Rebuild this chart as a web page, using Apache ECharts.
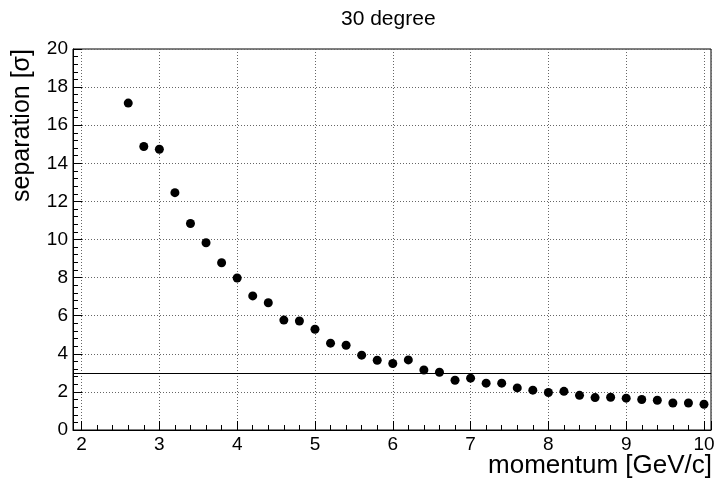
<!DOCTYPE html>
<html>
<head>
<meta charset="utf-8">
<script src="https://cdn.jsdelivr.net/npm/echarts@6/dist/echarts.min.js"></script>
<style>
  html, body { margin: 0; padding: 0; background: #fff; }
  #main { width: 715px; height: 478px; }
</style>
</head>
<body>
<div id="main"></div>
<script>
// momentum points (GeV/c) and separation values
let momentum = [2.6, 2.8, 3.0, 3.2, 3.4, 3.6, 3.8, 4.0, 4.2, 4.4, 4.6, 4.8, 5.0, 5.2, 5.4, 5.6, 5.8, 6.0, 6.2,
                6.4, 6.6, 6.8, 7.0, 7.2, 7.4, 7.6, 7.8, 8.0, 8.2, 8.4, 8.6, 8.8, 9.0, 9.2, 9.4, 9.6, 9.8, 10.0];
let separation = [17.16, 14.88, 14.74, 12.46, 10.84, 9.83, 8.78, 7.98, 7.04, 6.68, 5.77, 5.72, 5.29, 4.56, 4.45, 3.93, 3.66, 3.49, 3.68,
                  3.15, 3.03, 2.61, 2.72, 2.46, 2.46, 2.21, 2.09, 1.97, 2.03, 1.82, 1.70, 1.72, 1.67, 1.60, 1.56, 1.42, 1.42, 1.35];
let threshold = 3;
let xRange = [1.89, 10.09];
let yRange = [0, 20];

let points = momentum.map((m, i) => [m, separation[i]]);
let font = 'Liberation Sans, Arial, Helvetica, sans-serif';

let chart = echarts.init(document.getElementById('main'));
let option = {
    animation: false,
    backgroundColor: '#fff',
    title: {
        text: '30 degree',
        left: 336,
        top: 4,
        textStyle: { fontFamily: font, fontWeight: 'normal', fontSize: 21, color: '#000' }
    },
    graphic: [
        {
            // x axis title, right-aligned under the frame like ROOT does
            type: 'text',
            right: 3,
            top: 453,
            style: { text: 'momentum [GeV/c]', font: '26px ' + font, fill: '#000' }
        }
    ],
    grid: {
        left: 73, right: 4, top: 49, bottom: 48,
        outerBoundsMode: 'none',
        containLabel: false,
        show: true, borderColor: '#000', borderWidth: 1
    },
    xAxis: {
        type: 'value',
        min: xRange[0],
        max: xRange[1],
        splitNumber: 8,
        axisLine: { show: true, lineStyle: { color: '#000', width: 1 } },
        axisTick: { show: true, inside: true, length: 9, lineStyle: { color: '#000' } },
        minorTick: { show: true, splitNumber: 5, length: 5, lineStyle: { color: '#000' } },
        axisLabel: {
            showMinLabel: false, showMaxLabel: false,
            margin: 5, fontFamily: font, fontSize: 19, color: '#000'
        },
        splitLine: { show: true, lineStyle: { color: '#666', type: [1, 2], width: 1 } }
    },
    yAxis: {
        type: 'value',
        min: yRange[0],
        max: yRange[1],
        interval: 2,
        name: 'separation [σ]',
        nameLocation: 'end',
        nameGap: 0,
        nameRotate: 90,
        nameTextStyle: {
            fontFamily: font, fontSize: 25, color: '#000',
            align: 'right', verticalAlign: 'bottom', padding: [0, 0, 38, 0]
        },
        axisLine: { show: true, lineStyle: { color: '#000', width: 1 } },
        axisTick: { show: true, inside: true, length: 9, lineStyle: { color: '#000' } },
        minorTick: { show: true, splitNumber: 5, length: 5, lineStyle: { color: '#000' } },
        axisLabel: { margin: 5, fontFamily: font, fontSize: 19, color: '#000' },
        splitLine: { show: true, lineStyle: { color: '#666', type: [1, 2], width: 1 } }
    },
    series: [
        {
            type: 'scatter',
            data: points,
            symbol: 'circle',
            symbolSize: 9,
            itemStyle: { color: '#000', opacity: 1 },
            markLine: {
                silent: true,
                symbol: 'none',
                label: { show: false },
                lineStyle: { color: '#000', type: 'solid', width: 1.2 },
                data: [{ yAxis: threshold }]
            }
        }
    ]
};
chart.setOption(option);
</script>
</body>
</html>
